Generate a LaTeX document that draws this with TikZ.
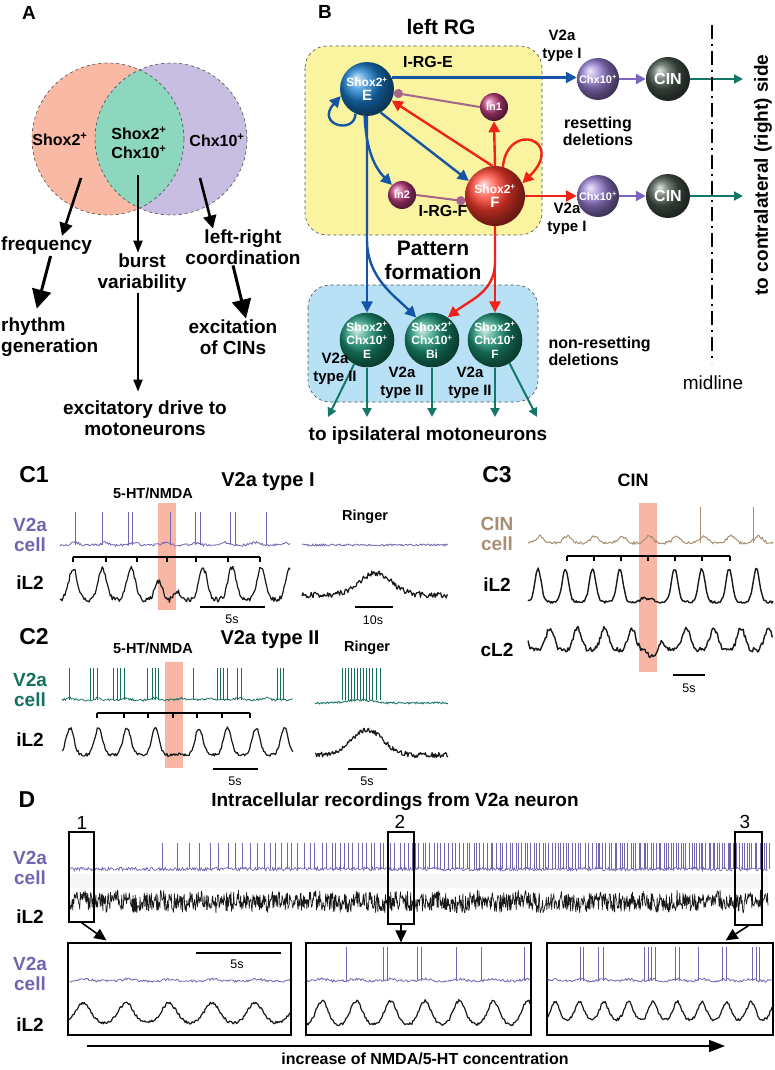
\documentclass[tikz,border=0pt]{standalone}
\usepackage{fontspec}
\setmainfont{Liberation Sans}
\usetikzlibrary{shapes,arrows,positioning,calc,arrows.meta}

\definecolor{salmon}{RGB}{250,185,165}
\definecolor{mint}{RGB}{140,215,190}
\definecolor{lav}{RGB}{200,190,225}
\definecolor{rgyellow}{RGB}{250,243,160}
\definecolor{pfblue}{RGB}{185,225,245}
\definecolor{eblue}{RGB}{20,85,165}
\definecolor{eball}{RGB}{25,125,205}
\definecolor{fred}{RGB}{240,35,25}
\definecolor{fball}{RGB}{255,60,45}
\definecolor{inmag}{RGB}{190,60,125}
\definecolor{chxpur}{RGB}{125,100,190}
\definecolor{chxball}{RGB}{150,125,210}
\definecolor{cingray}{RGB}{70,85,75}
\definecolor{v2green}{RGB}{25,145,115}
\definecolor{outteal}{RGB}{20,120,105}
\definecolor{inhmauve}{RGB}{165,100,140}
\definecolor{v2apur}{RGB}{115,100,175}
\definecolor{v2ateal}{RGB}{20,112,95}
\definecolor{cintan}{RGB}{168,143,115}
\definecolor{hlpink}{RGB}{248,182,165}

\begin{document}
\begin{tikzpicture}[x=1pt,y=-1pt,
    declare function={pk(\x,\pkp,\pkT,\pkw)=exp(-1*((mod(\x-\pkp+40*\pkT+0.5*\pkT,\pkT)-0.5*\pkT)^2)/\pkw);
                      gt(\x,\gc,\gh)=1-0.92*exp(-1*(min(abs(\x-\gc),3*\gh)/\gh)^2);},
    panel/.style={font=\fontsize{19}{21}\selectfont\bfseries},
    bigpanel/.style={font=\fontsize{23}{25}\selectfont\bfseries},
    lblA/.style={font=\fontsize{19}{20.5}\selectfont\bfseries, align=center, inner sep=1pt},
    venn/.style={font=\fontsize{16}{19}\selectfont\bfseries, align=center, inner sep=1pt},
    smlbl/.style={font=\fontsize{15}{17.5}\selectfont\bfseries, align=center, inner sep=1pt},
    druglbl/.style={font=\fontsize{14.5}{16}\selectfont\bfseries, inner sep=1pt},
    ctitle/.style={font=\fontsize{20}{22}\selectfont\bfseries, inner sep=1pt},
    sclbl/.style={font=\fontsize{12.5}{14}\selectfont, inner sep=1pt},
    neuron/.style={circle, inner sep=0pt, minimum size=#1, text=white, align=center,
                   font=\fontsize{12}{13.5}\selectfont\bfseries},
    vennline/.style={dashed, gray!60!black, line width=.6pt},
    boxline/.style={dashed, gray!60!black, line width=.6pt, rounded corners=22pt},
    arrsm/.style={line width=2.6pt, -{Triangle[length=13pt,width=13pt]}},
    arrbig/.style={line width=3pt, -{Triangle[length=19pt,width=19pt]}},
    arrthin/.style={line width=2pt, -{Triangle[length=12pt,width=9pt]}},
    barr/.style={eblue, line width=2.4pt, -{Triangle[length=11pt,width=11pt]}},
    rarr/.style={fred, line width=2.4pt, -{Triangle[length=11pt,width=11pt]}},
    parr/.style={chxpur, line width=2.4pt, -{Triangle[length=10pt,width=10pt]}},
    tarr/.style={outteal, line width=2pt, -{Triangle[length=9pt,width=9pt]}},
    inh/.style={inhmauve, line width=2pt, -{Circle[length=9pt,width=9pt]}},
    v2atr/.style={v2apur, line width=.8pt},
    v2ttr/.style={v2ateal, line width=.8pt},
    tantr/.style={cintan, line width=1pt},
    iltr/.style={black!90, line width=1.2pt, line join=round},
    brk/.style={line width=1.3pt},
    sbar/.style={line width=2pt},
    dbox/.style={draw, line width=1.2pt, inner sep=0pt},
    darr/.style={line width=1.6pt, -{Triangle[length=12pt,width=11pt]}}]

\useasboundingbox (0,0) rectangle (775,1070);

%% A: Venn diagram
\node[panel] (pA) at (29,13) {A};
\fill[salmon] (108,139) circle[radius=76pt];
\fill[lav] (171,139) circle[radius=76pt];
\begin{scope}
  \clip (108,139) circle[radius=76pt];
  \fill[mint] (171,139) circle[radius=76pt];
\end{scope}
\draw[vennline] (108,139) circle[radius=76pt] (171,139) circle[radius=76pt];
\node[venn] (shL) at (60,139) {Shox2\textsuperscript{+}};
\node[venn] (shC) at (139,143) {Shox2\textsuperscript{+}\\Chx10\textsuperscript{+}};
\node[venn] (chR) at (217,140) {Chx10\textsuperscript{+}};

\coordinate (aL) at (81,178);
\coordinate (aC) at (138,175);
\coordinate (aR) at (200,178);
\node[lblA, anchor=west] (freq) at (0,246) {frequency};
\node[lblA, anchor=west, align=left] (rhythm) at (0,337) {rhythm\\generation};
\node[lblA] (burst) at (142,273) {burst\\variability};
\node[lblA] (drive) at (145,418) {excitatory drive to\\motoneurons};
\node[lblA] (lr) at (243,247) {left-right\\coordination};
\node[lblA] (excit) at (233,337) {excitation\\of CINs};

\draw[arrsm] (aL) -- (freq.north -| 62,0);
\draw[arrbig] ([xshift=4pt]freq.south) -- ([xshift=-13pt,yshift=8pt]rhythm.north);
\draw[arrthin] (aC) -- (aC |- burst.north);
\draw[arrthin, shorten >=8pt] (aC |- burst.south) -- (aC |- drive.north);
\draw[arrsm] (aR) -- ([xshift=-30pt]lr.north);
\draw[arrbig] ([xshift=-10pt]lr.south) -- ([xshift=13pt]excit.north);

%% B: network
\node[panel] (pB) at (325,12) {B};
\node[font=\fontsize{21}{23}\selectfont\bfseries] (lrg) at (441,27) {left RG};
\filldraw[boxline, fill=rgyellow] (305,46) rectangle (542,235);
\filldraw[boxline, fill=pfblue] (308,285) rectangle (538,402);

\node[neuron=54pt, ball color=eball] (E) at (367,89) {Shox2\textsuperscript{+}\\\fontsize{15}{15}\selectfont E};
\node[neuron=28pt, ball color=inmag, font=\fontsize{11}{12}\selectfont\bfseries] (In1) at (494,107) {In1};
\node[neuron=28pt, ball color=inmag, font=\fontsize{11}{12}\selectfont\bfseries] (In2) at (402,195) {In2};
\node[neuron=60pt, ball color=fball] (F) at (495,196) {Shox2\textsuperscript{+}\\\fontsize{15}{15}\selectfont F};
\node[neuron=42pt, ball color=chxball, font=\fontsize{11}{12}\selectfont\bfseries] (X1) at (598,79) {Chx10\textsuperscript{+}};
\node[neuron=44pt, ball color=cingray, font=\fontsize{16}{17}\selectfont\bfseries] (CIN1) at (668,79) {CIN};
\node[neuron=42pt, ball color=chxball, font=\fontsize{11}{12}\selectfont\bfseries] (X2) at (598,196) {Chx10\textsuperscript{+}};
\node[neuron=44pt, ball color=cingray, font=\fontsize{16}{17}\selectfont\bfseries] (CIN2) at (668,196) {CIN};
\node[neuron=54pt, ball color=v2green] (GE) at (367,340) {Shox2\textsuperscript{+}\\Chx10\textsuperscript{+}\\E};
\node[neuron=54pt, ball color=v2green] (GB) at (432,340) {Shox2\textsuperscript{+}\\Chx10\textsuperscript{+}\\Bi};
\node[neuron=54pt, ball color=v2green] (GF) at (495,340) {Shox2\textsuperscript{+}\\Chx10\textsuperscript{+}\\F};
\coordinate (o1) at (743,79);
\coordinate (o2) at (743,196);
\coordinate (m1) at (328,417);
\coordinate (m2) at (367,417);
\coordinate (m3) at (432,417);
\coordinate (m4) at (495,417);
\coordinate (m5) at (537,417);

% inside the RG
\draw[barr] (E.-115) .. controls (355,135) and (315,125) .. (E.195);
\draw[barr] (E.-60) -- (F.150);
\draw[barr] (E.-95) .. controls (366,150) and (375,168) .. (In2.135);
\draw[inh] (In1.west) -- (E.-8);
\draw[inh] (In2.east) -- (F.190);
\draw[rarr] (F.95) -- (E.-25);
\draw[rarr] (F.north) -- (In1.south);
\draw[rarr] (F.75) .. controls (508,120) and (566,140) .. (F.25);
% to the other side
\draw[barr] (E.25) -- (E.25 -| X1.west);
\draw[parr] (X1) -- (CIN1);
\draw[tarr] (CIN1) -- (o1);
\draw[rarr] (F.east) -- (X2.west);
\draw[parr] (X2) -- (CIN2);
\draw[tarr] (CIN2) -- (o2);
% pattern formation
\draw[barr] (E.south) -- (GE.north);
\draw[barr] (E.south) -- (367,240) .. controls (367,278) and (395,296) .. (GB.125);
\draw[rarr] (F.south) -- (GF.north);
\draw[rarr] (F.south) -- (495,262) .. controls (495,292) and (470,300) .. (GB.55);
\draw[tarr] (GE.-118) -- (m1);
\draw[tarr] (GE.south) -- (m2);
\draw[tarr] (GB.south) -- (m3);
\draw[tarr] (GF.south) -- (m4);
\draw[tarr] (GF.-58) -- (m5);

\node[font=\fontsize{16}{18}\selectfont\bfseries] (irge) at (428,62) {I-RG-E};
\node[font=\fontsize{16}{18}\selectfont\bfseries] (irgf) at (443,211) {I-RG-F};
\node[font=\fontsize{21}{24}\selectfont\bfseries, align=center] (patt) at (433,260) {Pattern\\formation};
\node[smlbl] (ty1) at (562,46) {V2a\\type I};
\node[smlbl] (ty2) at (567,219) {V2a\\type I};
\node[font=\fontsize{16}{17}\selectfont\bfseries, align=center] (reset) at (598,131) {resetting\\deletions};
\node[font=\fontsize{16}{17}\selectfont\bfseries, align=left, anchor=west] (nreset) at (545,351) {non-resetting\\deletions};
\node[smlbl] (tyE) at (335,369) {V2a\\type II};
\node[smlbl] (tyB) at (402,383) {V2a\\type II};
\node[smlbl] (tyF) at (470,383) {V2a\\type II};
\node[lblA] (ipsi) at (428,436) {to ipsilateral motoneurons};
\draw[line width=1.5pt, dash pattern=on 14pt off 5pt on 2pt off 5pt] (712,25) -- (712,363);
\node[font=\fontsize{19}{21}\selectfont] (mid) at (713,383) {midline};
\node[lblA, rotate=90] (contra) at (763,175) {to contralateral (right) side};

%% C1
\node[bigpanel] (pC1) at (34,475) {C1};
\node[ctitle] (tC1) at (268,482) {V2a type I};
\node[druglbl] (dC1) at (153,493) {5-HT/NMDA};
\node[druglbl] (rC1) at (365,517) {Ringer};
\fill[hlpink] (158,503) rectangle (176,610);
\draw[v2atr] plot[domain=60:290,samples=200] (\x,{545+1.2*rand-2.5*pk(\x,75,30,25)});
\foreach \s in {75,102,128,132,170,195,200,230,235,266} \draw[v2atr] (\s,545) -- (\s,512);
\draw[brk] (73,557) -- (260,557);
\foreach \t in {73,106,137,167,196,228,260} \draw[brk] (\t,557) -- (\t,562);
\draw[iltr] plot[domain=60:290,samples=230] (\x,{600-32*pk(\x,73+14*(\x>170),29,35)*gt(\x,170,12)+2.5*rand});
\draw[v2atr] plot[domain=302:448,samples=150] (\x,{545+1*rand});
\draw[iltr] plot[domain=302:448,samples=160] (\x,{595-22*exp(-1*min((\x-375)^2/500,9))+3*rand});
\draw[sbar] (200,607) -- (265,607);
\node[sclbl] (s1) at (232,619) {5s};
\draw[sbar] (355,607) -- (393,607);
\node[sclbl] (s2) at (373,620) {10s};
\node[lblA, text=v2apur] (cC1) at (30,535) {V2a\\cell};
\node[lblA] (iC1) at (30,583) {iL2};

%% C2
\node[bigpanel] (pC2) at (34,637) {C2};
\node[ctitle] (tC2) at (270,640) {V2a type II};
\node[druglbl] (dC2) at (153,648) {5-HT/NMDA};
\node[druglbl] (rC2) at (367,648) {Ringer};
\fill[hlpink] (165,662) rectangle (183,768);
\draw[v2ttr] plot[domain=62:293,samples=200] (\x,{700+1.2*rand-2*pk(\x,70,28,22)});
\foreach \s in {69,90,93,97,113,117,120,124,147,152,155,158,193,217,220,223,227,237,241,277,280,283} \draw[v2ttr] (\s,700) -- (\s,668);
\draw[brk] (97,713) -- (250,713);
\foreach \t in {97,124,148,173,197,222,250} \draw[brk] (\t,713) -- (\t,718);
\draw[iltr] plot[domain=62:293,samples=230] (\x,{755-27*pk(\x,70+15*(\x>174),28.5,30)*gt(\x,174,10)+1.5*rand});
\draw[v2ttr] plot[domain=315:448,samples=150] (\x,{703+1*rand-3*exp(-1*min((\x-360)^2/300,9))});
\foreach \s in {342,345,348,351,354,357,360,363,366,369,372,376,380} \draw[v2ttr] (\s,700) -- (\s,668);
\draw[iltr] plot[domain=315:448,samples=160] (\x,{755-25*exp(-1*min((\x-367)^2/500,9))+2.5*rand});
\draw[sbar] (213,769) -- (258,769);
\node[sclbl] (s3) at (235,781) {5s};
\draw[sbar] (348,769) -- (387,769);
\node[sclbl] (s4) at (367,781) {5s};
\node[lblA, text=v2ateal] (cC2) at (30,690) {V2a\\cell};
\node[lblA] (iC2) at (30,740) {iL2};

%% C3
\node[bigpanel] (pC3) at (497,475) {C3};
\node[font=\fontsize{18}{20}\selectfont\bfseries] (tC3) at (633,480) {CIN};
\fill[hlpink] (639,503) rectangle (657,672);
\draw[tantr] plot[domain=528:773,samples=230] (\x,{543+1.3*rand-7*pk(\x,540,27.3,30)});
\foreach \s in {700,753} \draw[tantr] (\s,543) -- (\s,507);
\draw[brk] (567,556) -- (730,556);
\foreach \t in {567,594,621,648,675,702,730} \draw[brk] (\t,556) -- (\t,561);
\draw[iltr, line width=1.4pt] plot[domain=528:773,samples=240] (\x,{602-33*pk(\x,538,27.3,20)*gt(\x,648,9)+1.2*rand});
\draw[iltr, line width=1.4pt] plot[domain=528:773,samples=240] (\x,{650-22*pk(\x,550,27.3,30)*gt(\x,655,9)+2.5*rand+6*exp(-1*min((\x-652)^2/40,9))});
\draw[sbar] (673,675) -- (705,675);
\node[sclbl] (s5) at (689,688) {5s};
\node[lblA, text=cintan] (cC3) at (497,534) {CIN\\cell};
\node[lblA] (iC3) at (497,585) {iL2};
\node[lblA] (cl3) at (497,650) {cL2};

%% D
\node[bigpanel] (pD) at (27,800) {D};
\node[lblA] (tD) at (395,802) {Intracellular recordings from V2a neuron};
\fill[gray!7] (69,874) rectangle (768,888);
\draw[v2atr, line width=.7pt] plot[domain=69:768,samples=800] (\x,{869+1.8*rand});
\foreach \i in {1,...,170}{
  \pgfmathsetmacro\sx{133+635*(\i/170)^0.6+1.2*rand}
  \draw[v2atr, line width=.5pt] (\sx,869) -- (\sx,843);
}
\draw[iltr, line width=.7pt] plot[domain=69:768,samples=1300] (\x,{903+10*rand-3*pk(\x,80,40,100)});
\node[dbox, minimum width=25pt, minimum height=90pt] (b1) at (81.5,877) {};
\node[dbox, minimum width=26pt, minimum height=92pt] (b2) at (401,878) {};
\node[dbox, minimum width=27pt, minimum height=93pt] (b3) at (748.5,878.5) {};
\node[font=\fontsize{19}{21}\selectfont] (n1) at (82,823) {1};
\node[font=\fontsize{19}{21}\selectfont] (n2) at (400,822) {2};
\node[font=\fontsize{19}{21}\selectfont] (n3) at (745,822) {3};
\node[lblA, text=v2apur] (cD) at (30,868) {V2a\\cell};
\node[lblA] (iD) at (30,917) {iL2};

\node[dbox, minimum width=223pt, minimum height=92pt] (lb1) at (179.5,989) {};
\node[dbox, minimum width=225pt, minimum height=92pt] (lb2) at (418.5,989) {};
\node[dbox, minimum width=226pt, minimum height=92pt] (lb3) at (660,989) {};
\draw[darr] (b1.south) -- ([xshift=39pt,yshift=2pt]lb1.north west);
\draw[darr] (b2.south) -- (b2.south |- lb2.north);
\draw[darr] (b3.south) -- ([xshift=-48pt,yshift=2pt]lb3.north east);

\draw[v2atr] plot[domain=69:290,samples=200] (\x,{981+1.2*rand-2*pk(\x,85,43,60)});
\draw[iltr] plot[domain=69:290,samples=220] (\x,{1023-20*pk(\x,83,43,110)+1.5*rand});
\draw[sbar] (196,953) -- (281,953);
\node[sclbl] (s6) at (237,964) {5s};
\draw[v2atr] plot[domain=307:530,samples=200] (\x,{981+1.2*rand-2*pk(\x,322,34.3,60)});
\foreach \s in {346,383,387,417,421,456,481,524} \draw[v2atr] (\s,981) -- (\s,947);
\draw[iltr] plot[domain=307:530,samples=220] (\x,{1025-24*pk(\x,322,34.3,70)+1.5*rand});
\draw[v2atr] plot[domain=548:772,samples=200] (\x,{981+1.2*rand-2*pk(\x,555,24.5,30)});
\foreach \s in {580,583,598,603,644,648,651,655,675,679,698,722,726,752,756,759} \draw[v2atr] (\s,981) -- (\s,947);
\draw[iltr] plot[domain=548:772,samples=220] (\x,{1020-18*pk(\x,555,24.5,35)+1.5*rand});
\node[lblA, text=v2apur] (cDl) at (30,974) {V2a\\cell};
\node[lblA] (iDl) at (30,1025) {iL2};

\coordinate (inc0) at (87,1046);
\coordinate (inc1) at (725,1046);
\draw[line width=1.6pt, -{Triangle[length=16pt,width=12pt]}] (inc0) -- (inc1);
\node[font=\fontsize{16}{18}\selectfont\bfseries] (incl) at (425,1059) {increase of NMDA/5-HT concentration};

\end{tikzpicture}
\end{document}
